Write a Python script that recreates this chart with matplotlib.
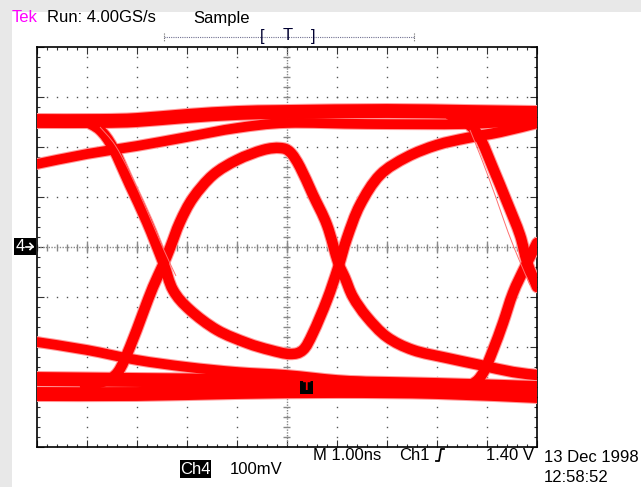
import numpy as np
import matplotlib
matplotlib.use("Agg")
import matplotlib.pyplot as plt
from matplotlib.patches import Rectangle, PathPatch
from matplotlib.path import Path

plt.rcParams['font.family'] = ['Liberation Sans', 'DejaVu Sans']

# eye diagram traces, time in ns (1 ns/div), voltage in mV from screen centre (100 mV/div)
high_t = [-5.0, -3.74, -3.0, -2.0, -1.0, 0.0, 2.0, 3.6, 5.0]
high_v = [252, 252, 254, 262, 268, 270, 272, 270, 268]

rise_tail_t = [-5.0, -4.0, -3.0, -2.0, -1.0, 0.0, 1.6, 3.6, 5.0]
rise_tail_v = [166, 186, 202, 220, 238, 248, 246, 246, 254]

fall_dip_t = [-4.04, -3.74, -3.48, -3.14, -2.8, -2.48, -2.28, -1.94, -1.4, -0.8, -0.34,
              0.06, 0.32, 0.52, 0.8, 1.02, 1.2, 1.46, 1.86, 2.4, 3.0, 3.6, 4.26, 5.0]
fall_dip_v = [252, 234, 198, 124, 50, -30, -86, -126, -166, -192, -206,
              -214, -206, -172, -106, -42, 18, 84, 144, 180, 204, 218, 230, 248]

rise_peak_t = [-4.04, -3.64, -3.38, -3.14, -2.88, -2.68, -2.48, -2.34, -2.14, -1.88, -1.48,
               -1.0, -0.48, -0.14, 0.06, 0.26, 0.52, 0.8, 1.02, 1.16, 1.32, 1.6, 2.0,
               2.52, 3.2, 3.86, 4.52, 5.0]
rise_peak_v = [-278, -268, -250, -200, -132, -80, -36, -2, 50, 98, 144,
               174, 194, 198, 190, 160, 104, 44, -30, -62, -100, -140, -180,
               -206, -222, -236, -250, -256]

fall_r_t = [3.26, 3.62, 3.86, 4.12, 4.4, 4.66, 4.8, 5.0]
fall_r_v = [264, 246, 218, 158, 90, 24, -30, -80]

rise_r_t = [3.26, 3.7, 3.92, 4.12, 4.32, 4.52, 4.76, 5.0]
rise_r_v = [-284, -274, -252, -206, -152, -92, -40, 8]

fall_tail_t = [-5.0, -4.0, -3.0, -2.0, -1.0, 0.0, 1.0, 2.0]
fall_tail_v = [-190, -206, -226, -240, -250, -256, -266, -272]

low_a_t = [-5, -3, -1, 1, 3, 5]
low_a_v = [-264, -266, -268, -272, -276, -282]
low_b_t = [-5, -3, -1, 1, 3, 5]
low_b_v = [-294, -294, -290, -288, -290, -298]

stray_a_t = [-3.74, -3.44, -3.14, -2.78, -2.48, -2.22]
stray_a_v = [240, 204, 148, 68, -2, -58]
stray_b_t = [3.66, 3.9, 4.16, 4.42, 4.66, 4.86]
stray_b_v = [234, 174, 104, 30, -30, -76]


def smooth_path(t, v):
    # catmull-rom through the read points, drawn as cubic bezier segments
    p = np.column_stack([t, v]).astype(float)
    verts = [p[0]]
    codes = [Path.MOVETO]
    for i in range(len(p) - 1):
        p0 = p[i - 1] if i > 0 else p[i]
        p1, p2 = p[i], p[i + 1]
        p3 = p[i + 2] if i + 2 < len(p) else p[i + 1]
        verts += [p1 + (p2 - p0) / 6, p2 - (p3 - p1) / 6, p2]
        codes += [Path.CURVE4] * 3
    return Path(verts, codes)


W, H = 641, 487
fig = plt.figure(figsize=(W / 100, H / 100), dpi=100)
fig.patch.set_facecolor('white')

# background / text layer in pixel coordinates
bg = fig.add_axes([0, 0, 1, 1])
bg.set_xlim(0, W)
bg.set_ylim(H, 0)
bg.axis('off')
gray = '#e8e8e8'
bg.add_patch(Rectangle((0, 0), 12, H, color=gray, lw=0))
bg.add_patch(Rectangle((0, 0), W, 12, color=gray, lw=0))

fs = 12
bg.text(12, 18, 'Tek', color='#ff00ff', fontsize=fs, va='center', ha='left')
bg.text(47, 18, 'Run: 4.00GS/s', color='black', fontsize=fs, va='center', ha='left')
bg.text(193, 18, 'Sample', color='black', fontsize=fs, va='center', ha='left')

# trigger position bar
bg.plot([164, 414], [37, 37], color='#707090', lw=0.8, ls=(0, (1, 1)))
bg.plot([164, 164], [33, 41], color='#707070', lw=0.8, ls=(0, (1, 1)))
bg.plot([414, 414], [33, 41], color='#707070', lw=0.8, ls=(0, (1, 1)))
bg.text(262, 36, '[', color='#000030', fontsize=fs, va='center', ha='center')
bg.text(288, 36, 'T', color='#000030', fontsize=fs, va='center', ha='center')
bg.text(313, 36, ']', color='#000030', fontsize=fs, va='center', ha='center')

bg.text(313, 455, 'M 1.00ns', fontsize=fs, va='center', ha='left')
bg.text(399, 455, 'Ch1', fontsize=fs, va='center', ha='left')
bg.plot([436, 439, 441, 444], [461, 461, 449, 449], color='black', lw=1.3)
bg.text(534, 455, '1.40 V', fontsize=fs, va='center', ha='right')
bg.text(544, 458, '13 Dec 1998', fontsize=fs, va='center', ha='left')
bg.text(544, 478, '12:58:52', fontsize=fs, va='center', ha='left')

bg.add_patch(Rectangle((180, 460), 31, 18, color='black', lw=0))
bg.text(195.5, 469, 'Ch4', color='white', fontsize=fs, va='center', ha='center')
bg.text(230, 469, '100mV', fontsize=fs, va='center', ha='left')

bg.add_patch(Rectangle((14, 238), 22, 17, color='black', lw=0))
bg.text(16, 246.5, '4', color='white', fontsize=fs, va='center', ha='left')
bg.plot([26, 33], [246.5, 246.5], color='white', lw=1.2)
bg.plot([30, 33, 30], [243.5, 246.5, 249.5], color='white', lw=1.2)

# graticule in divisions (time ns / voltage mV)
ax = fig.add_axes([37 / W, (H - 447) / H, 500 / W, 400 / H])
ax.set_xlim(-5, 5)
ax.set_ylim(-400, 400)
ax.set_facecolor('white')
for s in ax.spines.values():
    s.set_color('black')
    s.set_linewidth(1.2)
ax.set_xticks(np.arange(-5, 5.01, 1))
ax.set_xticks(np.arange(-5, 5.01, 0.2), minor=True)
ax.set_yticks(np.arange(-400, 401, 100))
ax.set_yticks(np.arange(-400, 401, 20), minor=True)
ax.tick_params(which='both', direction='in', top=True, right=True,
               labelbottom=False, labelleft=False, color='#333333', width=0.8)
ax.tick_params(which='major', length=5)
ax.tick_params(which='minor', length=2.5)

dot = dict(ls='none', marker='s', ms=1.0, color='#555555', mew=0)
for gx in range(-4, 5):
    if gx != 0:
        yy = np.arange(-400, 401, 20)
        ax.plot(np.full(len(yy), gx), yy, **dot)
for gy in range(-300, 301, 100):
    if gy != 0:
        xx = np.arange(-5, 5.01, 0.2)
        ax.plot(xx, np.full(len(xx), gy), **dot)

ax.axhline(0, color='#888888', lw=1, ls=(0, (1, 1)))
ax.axvline(0, color='#888888', lw=1, ls=(0, (1, 1)))
ax.vlines(np.arange(-5, 5.01, 0.2), -7, 7, color='#888888', lw=1)
ax.hlines(np.arange(-400, 401, 20), -0.07, 0.07, color='#888888', lw=1)
ax.vlines(np.arange(-4, 4.01, 1), -12, 12, color='#888888', lw=1)

red = '#ff0000'
halo = '#ff9a9a'
traces = [
    (high_t, high_v, 10.0),
    (rise_tail_t, rise_tail_v, 7.0),
    (fall_dip_t, fall_dip_v, 7.5),
    (rise_peak_t, rise_peak_v, 7.5),
    (fall_r_t, fall_r_v, 7.5),
    (rise_r_t, rise_r_v, 7.5),
    (fall_tail_t, fall_tail_v, 7.0),
    (low_a_t, low_a_v, 10.0),
    (low_b_t, low_b_v, 10.0),
]
for col, extra, z in [(halo, 1.5, 3), (red, 0.0, 4)]:
    for t, v, lw in traces:
        ax.add_patch(PathPatch(smooth_path(t, v), fill=False, edgecolor=col,
                               lw=lw + extra, capstyle='round', joinstyle='round',
                               zorder=z))
for t, v in [(stray_a_t, stray_a_v), (stray_b_t, stray_b_v)]:
    ax.add_patch(PathPatch(smooth_path(t, v), fill=False, edgecolor='#ff7070',
                           lw=0.7, zorder=4))

# trigger level marker
ax.add_patch(Rectangle((0.26, -294), 0.26, 26, color='black', lw=0, zorder=10))
ax.text(0.39, -281, 'T', color=red, fontsize=9, fontweight='bold',
        va='center', ha='center', zorder=11)

fig.savefig('out.png', dpi=100)
